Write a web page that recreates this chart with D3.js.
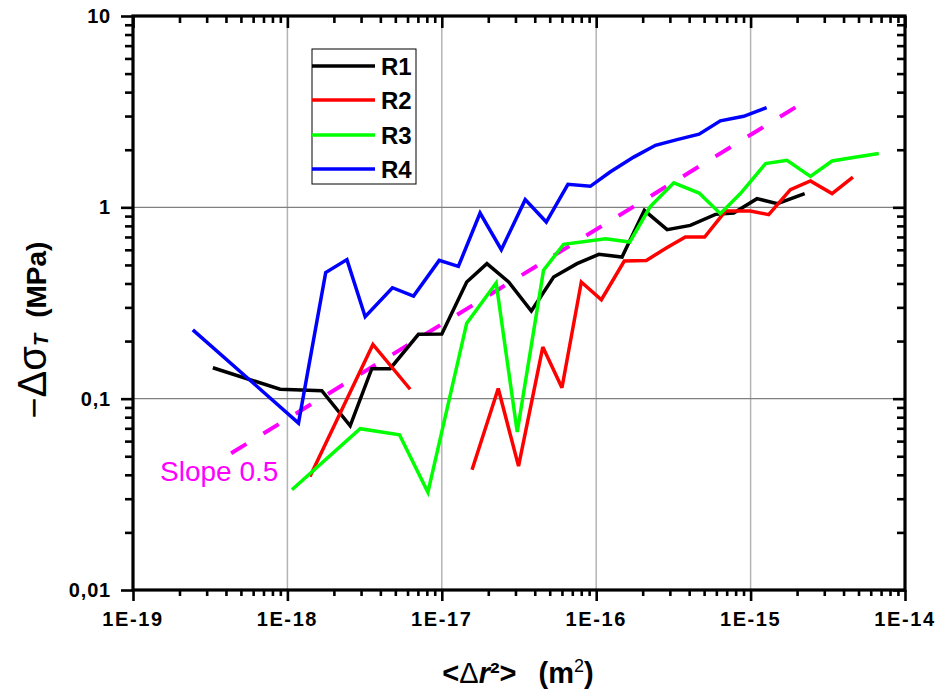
<!DOCTYPE html>
<html>
<head>
<meta charset="utf-8">
<script src="https://cdn.jsdelivr.net/npm/d3@7"></script>
<style>
  html, body { margin: 0; padding: 0; background: #fff; }
  svg { display: block; font-family: "Liberation Sans", Arial, sans-serif; }
</style>
</head>
<body>
<svg id="chart" width="940" height="693"></svg>
<script>
// ---------------- data ----------------
const seriesNames = ["R1", "R2", "R3", "R4"];
const seriesColors = ["#000000", "#ff0000", "#00ff00", "#0000ff"];

const r1X = [3.29e-19, 8.97e-19, 1.67e-18, 2.55e-18, 3.52e-18, 4.63e-18, 7.06e-18, 1.0e-17, 1.45e-17, 1.96e-17,
             2.71e-17, 3.80e-17, 5.30e-17, 7.51e-17, 1.04e-16, 1.47e-16, 2.05e-16, 2.88e-16, 4.07e-16, 5.92e-16,
             7.77e-16, 1.10e-15, 1.49e-15, 2.24e-15];
const r1Y = [0.145, 0.112, 0.110, 0.0721, 0.1435, 0.1435, 0.217, 0.218, 0.407, 0.508,
             0.407, 0.287, 0.432, 0.508, 0.568, 0.550, 0.965, 0.764, 0.805, 0.919,
             0.934, 1.11, 1.045, 1.18];

// null marks the break in the R2 curve
const r2X = [1.40e-18, 3.58e-18, 6.24e-18, 1.0e-17, 1.57e-17, 2.32e-17, 3.14e-17, 4.51e-17, 6.0e-17, 8.01e-17,
             1.08e-16, 1.52e-16, 2.11e-16, 2.88e-16, 3.78e-16, 5.04e-16, 6.87e-16, 9.97e-16, 1.31e-15, 1.81e-15,
             2.44e-15, 3.37e-15, 4.60e-15];
const r2Y = [0.0392, 0.192, 0.112, null, 0.0425, 0.113, 0.0444, 0.186, 0.114, 0.407,
             0.329, 0.524, 0.528, 0.616, 0.700, 0.700, 0.956, 0.956, 0.916, 1.237,
             1.373, 1.18, 1.44];

const r3X = [1.07e-18, 2.96e-18, 5.32e-18, 8.13e-18, 1.45e-17, 2.25e-17, 3.08e-17, 4.56e-17, 6.15e-17, 1.15e-16,
             1.65e-16, 2.24e-16, 3.18e-16, 4.64e-16, 6.37e-16, 8.59e-16, 1.25e-15, 1.72e-15, 2.44e-15, 3.37e-15,
             4.62e-15, 6.76e-15];
const r3Y = [0.0334, 0.0697, 0.0648, 0.0324, 0.248, 0.402, 0.0669, 0.469, 0.641, 0.686,
             0.659, 1.01, 1.343, 1.188, 0.927, 1.18, 1.692, 1.76, 1.452, 1.746,
             1.82, 1.91];

const r4X = [2.44e-19, 1.18e-18, 1.77e-18, 2.43e-18, 3.19e-18, 4.79e-18, 6.56e-18, 9.62e-18, 1.28e-17, 1.77e-17,
             2.43e-17, 3.47e-17, 4.75e-17, 6.56e-17, 9.16e-17, 1.23e-16, 1.75e-16, 2.42e-16, 3.34e-16, 4.64e-16,
             6.37e-16, 9.02e-16, 1.27e-15];
const r4Y = [0.229, 0.0746, 0.456, 0.533, 0.268, 0.380, 0.344, 0.528, 0.491, 0.934,
             0.601, 1.097, 0.838, 1.319, 1.288, 1.53, 1.83, 2.11, 2.26, 2.41,
             2.83, 2.99, 3.32];

// slope 0.5 guide line (two end points)
const slopeX = [4.32e-19, 1.95e-15];
const slopeY = [0.0518, 3.33];
const slopeLabel = "Slope 0.5";

const xMajorTicks = [1e-19, 1e-18, 1e-17, 1e-16, 1e-15, 1e-14];
const xTickLabels = ["1E-19", "1E-18", "1E-17", "1E-16", "1E-15", "1E-14"];
const yMajorTicks = [0.01, 0.1, 1, 10];
const yTickLabels = ["0,01", "0,1", "1", "10"];

// ---------------- layout ----------------
const svg = d3.select("#chart");
const L = 133, R = 905, T = 16, B = 590;

const x = d3.scaleLog().domain([1e-19, 1e-14]).range([L, R]);
const y = d3.scaleLog().domain([0.01, 10]).range([B, T]);

function minorTicks(majors) {
  const out = [];
  for (let i = 0; i < majors.length - 1; i++)
    for (let k = 2; k <= 9; k++) out.push(majors[i] * k);
  return out;
}
const xMinor = minorTicks(xMajorTicks);
const yMinor = minorTicks(yMajorTicks);

// grid
svg.append("g").selectAll("line").data(xMajorTicks.slice(1, -1)).join("line")
  .attr("x1", d => x(d)).attr("x2", d => x(d)).attr("y1", T).attr("y2", B)
  .attr("stroke", "#b4b4b4").attr("stroke-width", 1.5);
svg.append("g").selectAll("line").data(yMajorTicks.slice(1, -1)).join("line")
  .attr("x1", L).attr("x2", R).attr("y1", d => y(d)).attr("y2", d => y(d))
  .attr("stroke", "#808080").attr("stroke-width", 1.2);

// series
const seriesX = [r1X, r2X, r3X, r4X];
const seriesY = [r1Y, r2Y, r3Y, r4Y];
const line = d3.line().defined(d => d[1] != null).x(d => x(d[0])).y(d => y(d[1]));

// slope guide: dash pattern fitted so the line starts and ends with a dash
const slopePts = slopeX.map((v, i) => [v, slopeY[i]]);
const sLen = Math.hypot(x(slopeX[1]) - x(slopeX[0]), y(slopeY[1]) - y(slopeY[0]));
const dashLen = 18;
const nPer = Math.round((sLen - dashLen) / 37);
const gapLen = (sLen - dashLen) / nPer - dashLen;
svg.append("path")
  .attr("d", line(slopePts))
  .attr("fill", "none").attr("stroke", "#ff00ff").attr("stroke-width", 4)
  .attr("stroke-dasharray", `${dashLen},${gapLen}`);

[0, 1, 2, 3].forEach(i => {
  const pts = seriesX[i].map((v, j) => [v, seriesY[i][j]]);
  svg.append("path").attr("d", line(pts))
    .attr("fill", "none").attr("stroke", seriesColors[i]).attr("stroke-width", 3.5)
    .attr("stroke-linejoin", "miter").attr("stroke-miterlimit", 3);
});

// axes (tick marks)
function styleAxis(g) {
  g.select(".domain").remove();
  g.selectAll("line").attr("stroke", "#000").attr("stroke-width", 2.6);
  g.selectAll("text").remove();
}
svg.append("g").attr("transform", `translate(0,${B})`)
  .call(d3.axisBottom(x).tickValues(xMajorTicks).tickSize(11).tickFormat("")).call(styleAxis);
svg.append("g").attr("transform", `translate(0,${B})`)
  .call(d3.axisBottom(x).tickValues(xMinor).tickSize(6).tickFormat("")).call(styleAxis);
svg.append("g").attr("transform", `translate(0,${T})`)
  .call(d3.axisTop(x).tickValues(xMajorTicks).tickSize(-12).tickFormat("")).call(styleAxis);
svg.append("g").attr("transform", `translate(0,${T})`)
  .call(d3.axisTop(x).tickValues(xMinor).tickSize(-7).tickFormat("")).call(styleAxis);
svg.append("g").attr("transform", `translate(${L},0)`)
  .call(d3.axisLeft(y).tickValues(yMajorTicks).tickSize(12).tickFormat("")).call(styleAxis);
svg.append("g").attr("transform", `translate(${L},0)`)
  .call(d3.axisLeft(y).tickValues(yMinor).tickSize(8).tickFormat("")).call(styleAxis);
svg.append("g").attr("transform", `translate(${R},0)`)
  .call(d3.axisRight(y).tickValues(yMajorTicks).tickSize(-12).tickFormat("")).call(styleAxis);
svg.append("g").attr("transform", `translate(${R},0)`)
  .call(d3.axisRight(y).tickValues(yMinor).tickSize(-8).tickFormat("")).call(styleAxis);

// frame
svg.append("rect").attr("x", L).attr("y", T).attr("width", R - L).attr("height", B - T)
  .attr("fill", "none").attr("stroke", "#000").attr("stroke-width", 3.2);

// tick labels
svg.append("g").selectAll("text").data(xMajorTicks).join("text")
  .attr("x", d => x(d)).attr("y", 626).attr("text-anchor", "middle")
  .attr("font-size", 20).attr("font-weight", "bold").attr("letter-spacing", 1.6)
  .text((d, i) => xTickLabels[i]);
svg.append("g").selectAll("text").data(yMajorTicks).join("text")
  .attr("x", 111).attr("y", d => y(d) + 7).attr("text-anchor", "end")
  .attr("font-size", 20).attr("font-weight", "bold").attr("letter-spacing", 0.8)
  .text((d, i) => yTickLabels[i]);

// slope label
svg.append("text").attr("x", 160).attr("y", 481).attr("fill", "#ff00ff")
  .attr("font-size", 28).text(slopeLabel);

// legend
const leg = svg.append("g");
leg.append("rect").attr("x", 312).attr("y", 49).attr("width", 104).attr("height", 135)
  .attr("fill", "#fff").attr("stroke", "#000").attr("stroke-width", 1);
const legY = [66, 100, 135, 169];
seriesNames.forEach((n, i) => {
  leg.append("line").attr("x1", 312).attr("x2", 375).attr("y1", legY[i]).attr("y2", legY[i])
    .attr("stroke", seriesColors[i]).attr("stroke-width", 3.5);
  leg.append("text").attr("x", 381).attr("y", legY[i] + 8.5)
    .attr("font-size", 24).attr("font-weight", "bold").text(n);
});

// y axis title
const yt = svg.append("text").attr("transform", "translate(46,330) rotate(-90)")
  .attr("text-anchor", "middle");
yt.append("tspan").attr("font-size", 36).text("\u2212");
yt.append("tspan").attr("font-size", 40).text("\u0394\u03c3");
yt.append("tspan").attr("font-size", 20).attr("font-weight", "bold").attr("font-style", "italic").attr("dy", 2).text("T");
yt.append("tspan").attr("font-size", 28).attr("font-weight", "bold").attr("dx", 16).attr("dy", -2).text("(MPa)");

// x axis title
const xt = svg.append("text").attr("x", 518).attr("y", 683).attr("text-anchor", "middle")
  .attr("font-size", 29).attr("font-weight", "bold");
xt.append("tspan").text("<");
xt.append("tspan").attr("font-weight", "normal").text("\u0394");
xt.append("tspan").attr("font-style", "italic").text("r");
xt.append("tspan").text("\u00b2>");
xt.append("tspan").attr("dx", 22).text("(m");
xt.append("tspan").attr("font-size", 18).attr("font-weight", "normal").attr("dy", -11).text("2");
xt.append("tspan").attr("dy", 11).text(")");
</script>
</body>
</html>
